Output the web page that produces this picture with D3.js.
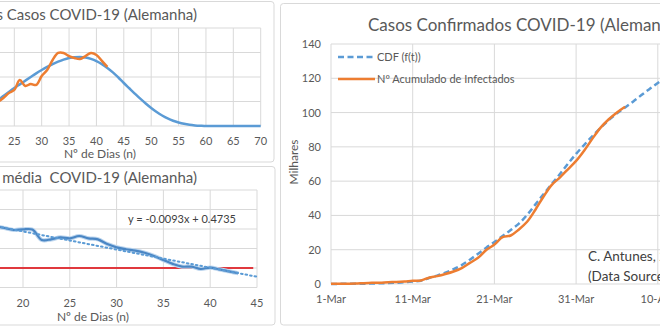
<!DOCTYPE html>
<html><head><meta charset="utf-8">
<script src="https://cdn.jsdelivr.net/npm/d3@7"></script>
<style>
body{margin:0;background:#fff;}
svg{display:block;font-family:Lato,"Liberation Sans",sans-serif;}
</style></head>
<body><svg id="c" width="660" height="330"></svg>
<script>
// ---------- DATA ----------
// Top-left: daily new cases (model PDF vs observed), by day number n
const pdfDays = d3.range(20, 71);
const pdfModel = [1700,1900,2120,2450,2780,3100,3400,3700,4000,4300,4570,4820,5050,5250,5420,5550,5620,5640,5600,5480,5300,5050,4740,4380,3960,3510,3080,2650,2230,1840,1470,1140,860,620,430,290,180,100,50,20,0,0,0,0,0,0,0,0,0,0,0];
const dailyDays = d3.range(20, 43);
const dailyCases = [1500,1750,1960,2290,2690,2940,3750,3270,3430,3350,4080,4570,5390,5960,5960,5710,5550,5470,5710,5960,5800,5310,4820];
const topTicks = [25,30,35,40,45,50,55,60,65,70];

// Bottom-left: moving-average growth rate, by day number n
const rateDays = d3.range(17, 44);
const rateAvg = [0.315,0.305,0.295,0.298,0.297,0.244,0.247,0.257,0.252,0.264,0.252,0.247,0.223,0.206,0.196,0.189,0.178,0.162,0.141,0.121,0.107,0.107,0.095,0.102,0.093,0.083,0.073];
const trendSlope = -0.0093, trendIntercept = 0.4735;
const refRate = 0.1;
const bottomTicks = [20,25,30,35,40,45];

// Right: cumulative confirmed cases (thousands), daily from 1-Mar-2020
const startDate = "2020-03-01";
const cumulativeInfected = [0.13,0.16,0.2,0.26,0.48,0.67,0.8,1.04,1.18,1.46,1.91,2.08,3.68,4.59,5.8,7.27,9.26,12.3,15.3,19.8,23.0,27.3,28.3,31.8,36.3,43.2,50.9,57.7,62.1,66.9,71.8,77.9,84.8,91.2,96.1,100.1,103.4];
const cdfModel = [0.05,0.07,0.1,0.14,0.2,0.28,0.4,0.55,0.75,1.0,1.4,1.9,3.5,4.9,6.6,8.6,11.0,14.2,17.6,21.2,24.5,28.0,31.5,35.2,40.3,46.3,52.3,58.2,64.0,70.1,75.9,81.2,86.3,91.2,95.6,99.6,103.0,106.5,110.2,113.8,117.3,120.6,123.7,126.6,129.3,131.8];
const rightYTicks = [0,20,40,60,80,100,120,140];
const rightXTicks = ["1-Mar","11-Mar","21-Mar","31-Mar","10-Apr"];

// ---------- STYLE ----------
const BLUE = "#5b9bd5", ORANGE = "#ed7d31", RED = "#e0393e", GRID = "#d9d9d9", TXT = "#595959";
const svg = d3.select("#c");
const defs = svg.append("defs");

// Panel frames
svg.append("rect").attr("x",-10).attr("y",1.5).attr("width",284).attr("height",160.5).attr("rx",3)
  .attr("fill","none").attr("stroke",GRID);
svg.append("rect").attr("x",-10).attr("y",166.5).attr("width",285).attr("height",158.5).attr("rx",3)
  .attr("fill","none").attr("stroke",GRID);
svg.append("rect").attr("x",280.5).attr("y",3.5).attr("width",400).attr("height",321.5).attr("rx",3)
  .attr("fill","none").attr("stroke",GRID);

// ---------- TOP-LEFT ----------
{
  const g = svg.append("g");
  const x = d3.scaleLinear([25,70],[14.3,260.7]);
  const y = d3.scaleLinear([0,8000],[126,28]);
  defs.append("clipPath").attr("id","clipA").append("rect").attr("x",0).attr("y",20).attr("width",262).attr("height",110);
  const grid = g.append("g").attr("stroke",GRID).attr("stroke-width",1);
  [20].concat(topTicks).forEach(t => grid.append("line").attr("x1",x(t)).attr("x2",x(t)).attr("y1",y(0)).attr("y2",y(8000)));
  d3.range(0,8001,2000).forEach(v => grid.append("line").attr("x1",-20).attr("x2",x(70)).attr("y1",y(v)).attr("y2",y(v)));
  const lines = g.append("g").attr("clip-path","url(#clipA)");
  lines.append("path").attr("d", d3.line().x((d,i)=>x(pdfDays[i])).y(d=>y(d)).curve(d3.curveMonotoneX)(pdfModel))
    .attr("fill","none").attr("stroke",BLUE).attr("stroke-width",2.5);
  lines.append("path").attr("d", d3.line().x((d,i)=>x(dailyDays[i])).y(d=>y(d)).curve(d3.curveCatmullRom)(dailyCases))
    .attr("fill","none").attr("stroke",ORANGE).attr("stroke-width",2.5);
  g.selectAll(".tk").data(topTicks).join("text").attr("x",d=>x(d)).attr("y",145)
    .attr("text-anchor","middle").attr("font-size",11).attr("fill",TXT).text(d=>d);
  g.append("text").attr("x",100).attr("y",157.5).attr("text-anchor","middle").attr("font-size",12).attr("fill",TXT).text("Nº de Dias (n)");
  g.append("text").attr("x",197).attr("y",20).attr("text-anchor","end").attr("font-size",15).attr("fill",TXT)
    .text("Distribuição dos Casos COVID-19 (Alemanha)");
}

// ---------- BOTTOM-LEFT ----------
{
  const g = svg.append("g");
  const x = d3.scaleLinear([20,45],[23,257]);
  const y = d3.scaleLinear([0,0.5],[287.5,190]);
  defs.append("clipPath").attr("id","clipB").append("rect").attr("x",0).attr("y",185).attr("width",262).attr("height",110);
  const grid = g.append("g").attr("stroke",GRID).attr("stroke-width",1);
  [15].concat(bottomTicks).forEach(t => grid.append("line").attr("x1",x(t)).attr("x2",x(t)).attr("y1",y(0)).attr("y2",y(0.5)));
  d3.range(0,0.51,0.1).forEach(v => grid.append("line").attr("x1",-20).attr("x2",x(45)).attr("y1",y(v)).attr("y2",y(v)));
  const lines = g.append("g").attr("clip-path","url(#clipB)");
  lines.append("line").attr("x1",x(10)).attr("x2",x(44.6)).attr("y1",y(refRate)).attr("y2",y(refRate))
    .attr("stroke",RED).attr("stroke-width",2.2);
  const rl = d3.line().x((d,i)=>x(rateDays[i])).y(d=>y(d)).curve(d3.curveCatmullRom);
  lines.append("path").attr("d", rl(rateAvg)).attr("fill","none").attr("stroke","#bcd5ee").attr("stroke-width",4.2);
  lines.append("path").attr("d", rl(rateAvg)).attr("fill","none").attr("stroke","#4a86c4").attr("stroke-width",2.2);
  lines.append("line").attr("x1",x(10)).attr("x2",x(45)).attr("y1",y(trendIntercept+trendSlope*10)).attr("y2",y(trendIntercept+trendSlope*45))
    .attr("stroke",BLUE).attr("stroke-width",2).attr("stroke-dasharray","1.6,3").attr("stroke-linecap","round");
  g.append("text").attr("x",182).attr("y",223).attr("text-anchor","middle").attr("font-size",11).attr("fill","#404040")
    .text(`y = ${trendSlope}x + ${trendIntercept}`);
  g.selectAll(".tk").data(bottomTicks).join("text").attr("x",d=>x(d)).attr("y",306.5)
    .attr("text-anchor","middle").attr("font-size",11).attr("fill",TXT).text(d=>d);
  g.append("text").attr("x",93).attr("y",320.5).attr("text-anchor","middle").attr("font-size",12).attr("fill",TXT).text("Nº de Dias (n)");
  g.append("text").attr("x",197).attr("y",183).attr("text-anchor","end").attr("font-size",15).attr("fill",TXT)
    .text("Taxa média\u00a0 COVID-19 (Alemanha)");
}

// ---------- RIGHT ----------
{
  const g = svg.append("g");
  const t0 = d3.timeParse("%Y-%m-%d")(startDate);
  const day = i => d3.timeDay.offset(t0, i);
  const x = d3.scaleTime([t0, day(40)],[331, 657.8]);
  const y = d3.scaleLinear([0,140],[284,44]);
  const grid = g.append("g").attr("stroke",GRID).attr("stroke-width",1);
  const xt = rightXTicks.map((s,i)=>day(i*10));
  xt.concat([day(50)]).forEach(d => grid.append("line").attr("x1",x(d)).attr("x2",x(d)).attr("y1",y(0)).attr("y2",y(140)));
  rightYTicks.forEach(v => grid.append("line").attr("x1",x(t0)).attr("x2",700).attr("y1",y(v)).attr("y2",y(v)));
  g.append("path").attr("d", d3.line().x((d,i)=>x(day(i))).y(d=>y(d)).curve(d3.curveMonotoneX)(cdfModel))
    .attr("fill","none").attr("stroke",BLUE).attr("stroke-width",2.5).attr("stroke-dasharray","6,3.5");
  g.append("path").attr("d", d3.line().x((d,i)=>x(day(i))).y(d=>y(d)).curve(d3.curveCatmullRom)(cumulativeInfected))
    .attr("fill","none").attr("stroke",ORANGE).attr("stroke-width",2.5);
  g.selectAll(".yt").data(rightYTicks).join("text").attr("x",321).attr("y",d=>y(d)+4)
    .attr("text-anchor","end").attr("font-size",11).attr("fill",TXT).text(d=>d);
  g.selectAll(".xt").data(rightXTicks).join("text").attr("x",(d,i)=>x(xt[i])).attr("y",303)
    .attr("text-anchor","middle").attr("font-size",11).attr("fill",TXT).text(d=>d);
  g.append("text").attr("transform","translate(298,162) rotate(-90)").attr("text-anchor","middle")
    .attr("font-size",12).attr("fill",TXT).text("Milhares");
  g.append("text").attr("x",368).attr("y",31).attr("font-size",17).attr("fill",TXT).text("Casos Confirmados COVID-19 (Alemanha)");
  // legend
  g.append("line").attr("x1",338).attr("x2",375).attr("y1",57).attr("y2",57).attr("stroke",BLUE).attr("stroke-width",2.5).attr("stroke-dasharray","6,3.5");
  g.append("text").attr("x",377).attr("y",60.5).attr("font-size",11).attr("fill",TXT).text("CDF (f(t))");
  g.append("line").attr("x1",338).attr("x2",375).attr("y1",79).attr("y2",79).attr("stroke",ORANGE).attr("stroke-width",2.5);
  g.append("text").attr("x",377).attr("y",82.5).attr("font-size",11).attr("fill",TXT).text("Nº Acumulado de Infectados");
  // annotation
  g.append("text").attr("x",588).attr("y",261).attr("font-size",13.5).attr("fill","#404040").text("C. Antunes, 2020");
  g.append("text").attr("x",588).attr("y",281).attr("font-size",13.5).attr("fill","#404040").text("(Data Source: JHU CSSE)");
}
</script></body></html>
